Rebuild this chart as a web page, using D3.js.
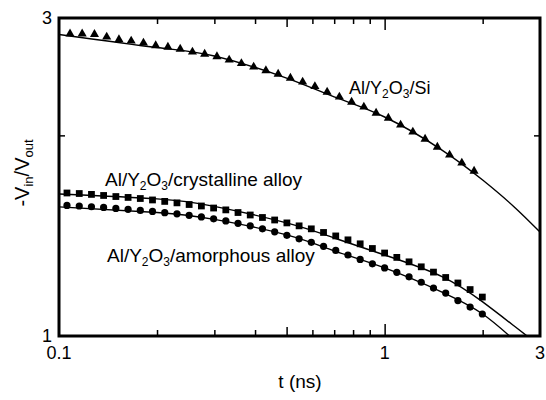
<!DOCTYPE html>
<html>
<head>
<meta charset="utf-8">
<script src="https://cdn.jsdelivr.net/npm/d3@7"></script>
<style>
    body { margin: 0; background: #fff; }
    text { font-family: "Liberation Sans", Arial, Helvetica, sans-serif; fill: #000; }
    .frame { fill: none; stroke: #000; stroke-width: 3px; }
    .tick line { stroke: #000; stroke-width: 1.5px; }
    .fit { fill: none; stroke: #000; stroke-width: 1.4px; }
</style>
</head>
<body>
<script>

    // Al/Y2O3/Si (triangles)
    var tSi = [0.1081, 0.1178, 0.1285, 0.1401, 0.1528, 0.1666, 0.1817, 0.1981, 0.2160, 0.2356,
               0.2569, 0.2801, 0.3055, 0.3331, 0.3632, 0.3961, 0.4319, 0.4710, 0.5136, 0.5600,
               0.6107, 0.6659, 0.7261, 0.7918, 0.8634, 0.9415, 1.0267, 1.1196, 1.2208, 1.3312,
               1.4517, 1.5830, 1.7261, 1.8823];
    var vSi = [2.840, 2.840, 2.835, 2.810, 2.785, 2.771, 2.752, 2.728, 2.714, 2.695,
               2.668, 2.649, 2.626, 2.595, 2.564, 2.533, 2.502, 2.472, 2.438, 2.405,
               2.368, 2.323, 2.284, 2.244, 2.206, 2.160, 2.123, 2.073, 2.024, 1.975,
               1.921, 1.869, 1.818, 1.768];

    // alloy samples (squares = crystalline, circles = amorphous)
    var tAlloy = [0.1058, 0.1154, 0.1258, 0.1371, 0.1495, 0.1630, 0.1777, 0.1937, 0.2112, 0.2303,
                  0.2510, 0.2737, 0.2984, 0.3253, 0.3546, 0.3866, 0.4215, 0.4595, 0.5010, 0.5462,
                  0.5954, 0.6492, 0.7077, 0.7716, 0.8412, 0.9171, 0.9998, 1.0900, 1.1884, 1.2956,
                  1.4125, 1.5399, 1.6788, 1.8303, 1.9954];
    var vCryst = [1.639, 1.636, 1.631, 1.625, 1.619, 1.614, 1.608, 1.600, 1.592, 1.584,
                  1.575, 1.567, 1.556, 1.546, 1.532, 1.519, 1.506, 1.493, 1.478, 1.463,
                  1.448, 1.430, 1.413, 1.394, 1.375, 1.353, 1.332, 1.312, 1.292, 1.270,
                  1.247, 1.224, 1.201, 1.174, 1.144];
    var vAmorph = [1.570, 1.567, 1.563, 1.559, 1.554, 1.549, 1.543, 1.538, 1.531, 1.525,
                   1.517, 1.509, 1.499, 1.488, 1.476, 1.463, 1.448, 1.433, 1.416, 1.399,
                   1.382, 1.363, 1.344, 1.323, 1.303, 1.283, 1.265, 1.246, 1.227, 1.204,
                   1.180, 1.160, 1.130, 1.105, 1.079];

    // fitted curves
    var tFit = [0.1, 0.2, 0.3, 0.5, 0.7, 1, 1.5, 2, 2.5, 3];
    var fitSi     = [2.834, 2.709, 2.631, 2.438, 2.284, 2.131, 1.901, 1.714, 1.562, 1.432];
    var fitCryst  = [1.633, 1.606, 1.565, 1.478, 1.403, 1.323, 1.228, 1.125, 1.035, 0.966];
    var fitAmorph = [1.562, 1.532, 1.496, 1.418, 1.342, 1.265, 1.164, 1.079, 0.986, 0.914];

    var xTicksMinor = [0.2, 0.3, 0.4, 0.6, 0.7, 0.8, 0.9, 2];
    var xTicksMid = [0.5];
    var xTicksMajor = [1];
    var xLabels = [0.1, 1, 3];
    var yTicks = [2];
    var yLabels = [1, 3];

    var width = 546, height = 400;
    var mLeft = 59, mRight = 540, mTop = 18, mBottom = 336;

    var x = d3.scaleLog().domain([0.1, 3]).range([mLeft, mRight]);
    var y = d3.scaleLog().domain([1, 3]).range([mBottom, mTop]);

    var svg = d3.select("body").append("svg")
        .attr("width", width)
        .attr("height", height);

    svg.append("defs").append("clipPath").attr("id", "plot")
      .append("rect")
        .attr("x", mLeft).attr("y", mTop)
        .attr("width", mRight - mLeft).attr("height", mBottom - mTop);

    // inward ticks on all four sides
    function xt(vals, len) {
        svg.append("g").attr("transform", "translate(0," + mBottom + ")")
           .call(d3.axisBottom(x).tickValues(vals).tickSize(-len).tickFormat(""))
           .call(g => g.select(".domain").remove());
        svg.append("g").attr("transform", "translate(0," + mTop + ")")
           .call(d3.axisTop(x).tickValues(vals).tickSize(-len).tickFormat(""))
           .call(g => g.select(".domain").remove());
    }
    xt(xTicksMinor, 6);
    xt(xTicksMid, 9);
    xt(xTicksMajor, 12);

    svg.append("g").attr("transform", "translate(" + mLeft + ",0)")
       .call(d3.axisLeft(y).tickValues(yTicks).tickSize(-6).tickFormat(""))
       .call(g => g.select(".domain").remove());
    svg.append("g").attr("transform", "translate(" + mRight + ",0)")
       .call(d3.axisRight(y).tickValues(yTicks).tickSize(-6).tickFormat(""))
       .call(g => g.select(".domain").remove());

    // tick labels
    svg.append("g").selectAll("text").data(xLabels).enter().append("text")
       .attr("x", d => x(d)).attr("y", mBottom + 23)
       .attr("text-anchor", "middle")
       .style("font-size", "18px")
       .text(d => d);

    svg.append("g").selectAll("text").data(yLabels).enter().append("text")
       .attr("x", mLeft - 7).attr("y", d => y(d) + 6)
       .attr("text-anchor", "end")
       .style("font-size", "18px")
       .text(d => d);

    // fitted lines
    var line = d3.line().curve(d3.curveNatural)
        .x(d => x(d[0])).y(d => y(d[1]));
    var fits = [fitSi, fitCryst, fitAmorph];
    var gl = svg.append("g").attr("clip-path", "url(#plot)");
    fits.forEach(function(f) {
        gl.append("path").attr("class", "fit")
          .attr("d", line(tFit.map((t, i) => [t, f[i]])));
    });

    // markers
    var tri = d3.symbol().type(d3.symbolTriangle).size(36);
    svg.append("g").selectAll("path").data(tSi).enter().append("path")
       .attr("d", tri)
       .attr("transform", (d, i) => "translate(" + x(d) + "," + y(vSi[i]) + ")");

    var sq = d3.symbol().type(d3.symbolSquare).size(46);
    svg.append("g").selectAll("path").data(tAlloy).enter().append("path")
       .attr("d", sq)
       .attr("transform", (d, i) => "translate(" + x(d) + "," + y(vCryst[i]) + ")");

    svg.append("g").selectAll("circle").data(tAlloy).enter().append("circle")
       .attr("r", 3.6)
       .attr("cx", d => x(d))
       .attr("cy", (d, i) => y(vAmorph[i]));

    // frame
    svg.append("rect").attr("class", "frame")
       .attr("x", mLeft).attr("y", mTop)
       .attr("width", mRight - mLeft).attr("height", mBottom - mTop);

    // axis titles
    svg.append("text")
       .attr("x", 300).attr("y", 388)
       .attr("text-anchor", "middle")
       .style("font-size", "19px")
       .text("t (ns)");

    var yl = svg.append("text")
       .attr("transform", "translate(29,173) rotate(-90)")
       .attr("text-anchor", "middle")
       .style("font-size", "20px");
    yl.append("tspan").text("-V");
    yl.append("tspan").attr("dy", 4).style("font-size", "13px").text("in");
    yl.append("tspan").attr("dy", -4).text("/V");
    yl.append("tspan").attr("dy", 4).style("font-size", "13px").text("out");

    // series labels with subscripts
    function label(xp, yp, tail, fs) {
        var t = svg.append("text").attr("x", xp).attr("y", yp).style("font-size", fs + "px");
        t.append("tspan").text("Al/Y");
        t.append("tspan").attr("dy", 4).style("font-size", "12px").text("2");
        t.append("tspan").attr("dy", -4).text("O");
        t.append("tspan").attr("dy", 4).style("font-size", "12px").text("3");
        t.append("tspan").attr("dy", -4).text(tail);
    }
    label(349, 94, "/Si", 18);
    label(105, 186, "/crystalline alloy", 19);
    label(107, 262, "/amorphous alloy", 19);

</script>
</body>
</html>
